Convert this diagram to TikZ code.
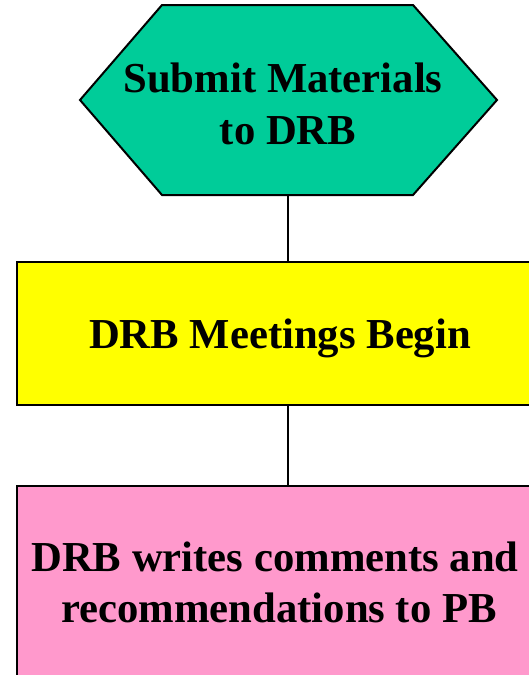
\documentclass[tikz,border=0pt]{standalone}
\usepackage{fontspec}
\setmainfont{Liberation Serif}
\definecolor{hexfill}{HTML}{00CC99}
\definecolor{yelfill}{HTML}{FFFF00}
\definecolor{pinkfill}{HTML}{FF99CC}
\begin{document}
\begin{tikzpicture}[x=1pt,y=-1pt,
  box/.style={draw=black, line width=2pt, minimum width=528pt, inner sep=0pt, anchor=north west},
  lbl/.style={font=\bfseries\fontsize{42.7}{51}\selectfont, anchor=base, inner sep=0pt},
  conn/.style={draw=black, line width=2.2pt}]
\useasboundingbox (0,0) rectangle (529,675);
\clip (0,0) rectangle (529,675);
\fill[white] (0,0) rectangle (529,675);
% hexagon
\draw[line width=2pt, fill=hexfill, line join=miter]
  (80,100) -- (162,5) -- (413,5) -- (497,100) -- (413,195) -- (162,195) -- cycle;
\coordinate (hexb) at (288,195);
\node[lbl] (h1) at (283,92) {Submit Materials};
\node[lbl] (h2) at (288,144) {to DRB};
% yellow box
\node[box, fill=yelfill, minimum height=143pt] (yel) at (16,261) {};
\node[lbl] (y1) at (280,348) {DRB Meetings Begin};
% pink box
\node[box, fill=pinkfill, minimum height=230pt] (pink) at (16,485) {};
\node[lbl] (p1) at (275,571) {DRB writes comments and};
\node[lbl] (p2) at (279,622) {recommendations to PB};
% connectors
\draw[conn] (hexb) -- (hexb |- yel.north);
\draw[conn] (hexb |- yel.south) -- (hexb |- pink.north);
\end{tikzpicture}
\end{document}
